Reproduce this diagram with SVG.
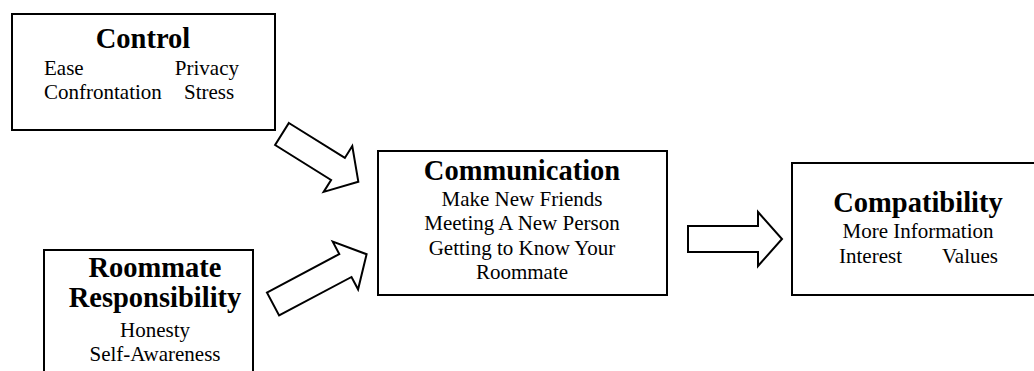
<svg xmlns="http://www.w3.org/2000/svg" width="1034" height="371" viewBox="0 0 1034 371">
  <style>
    .box { fill: #ffffff; stroke: #000000; stroke-width: 2; }
    .arrow { fill: #ffffff; stroke: #000000; stroke-width: 2; stroke-linejoin: miter; }
    .title { font-family: "Liberation Serif", "Times New Roman", serif; font-weight: bold; font-size: 28.5px; fill: #000000; }
    .body { font-family: "Liberation Serif", "Times New Roman", serif; font-size: 21px; fill: #000000; }
    .c { text-anchor: middle; }
    .e { text-anchor: end; }
  </style>
  <rect width="1034" height="371" fill="#ffffff"/>

  <!-- block arrows between the boxes -->
  <g id="connectors">
    <polygon class="arrow" transform="translate(282,134) rotate(32)" points="0,-13 66,-13 66,-27 90,0 66,27 66,13 0,13"/>
    <polygon class="arrow" transform="translate(273,304) rotate(-28)" points="0,-13 82,-13 82,-27 106,0 82,27 82,13 0,13"/>
    <polygon class="arrow" points="688,226 758,226 758,212 782,239 758,266 758,252 688,252"/>
  </g>

  <g id="control">
    <rect class="box" x="12" y="14" width="263" height="116"/>
    <text class="title c" x="143" y="48">Control</text>
    <text class="body" x="44" y="75">Ease</text>
    <text class="body e" x="239" y="75">Privacy</text>
    <text class="body" x="44" y="99">Confrontation</text>
    <text class="body" x="184" y="99">Stress</text>
  </g>

  <g id="roommate-responsibility">
    <rect class="box" x="44" y="250" width="209" height="140"/>
    <text class="title c" x="155" y="277">Roommate</text>
    <text class="title c" x="155" y="307">Responsibility</text>
    <text class="body c" x="155" y="337">Honesty</text>
    <text class="body c" x="155" y="361">Self-Awareness</text>
  </g>

  <g id="communication">
    <rect class="box" x="378" y="151" width="289" height="144"/>
    <text class="title c" x="522" y="180">Communication</text>
    <text class="body c" x="522" y="206">Make New Friends</text>
    <text class="body c" x="522" y="230">Meeting A New Person</text>
    <text class="body c" x="522" y="255">Getting to Know Your</text>
    <text class="body c" x="522" y="279">Roommate</text>
  </g>

  <g id="compatibility">
    <rect class="box" x="792" y="163" width="260" height="132"/>
    <text class="title c" x="918" y="212">Compatibility</text>
    <text class="body c" x="918" y="238">More Information</text>
    <text class="body" x="839" y="263">Interest</text>
    <text class="body e" x="998" y="263">Values</text>
  </g>
</svg>
